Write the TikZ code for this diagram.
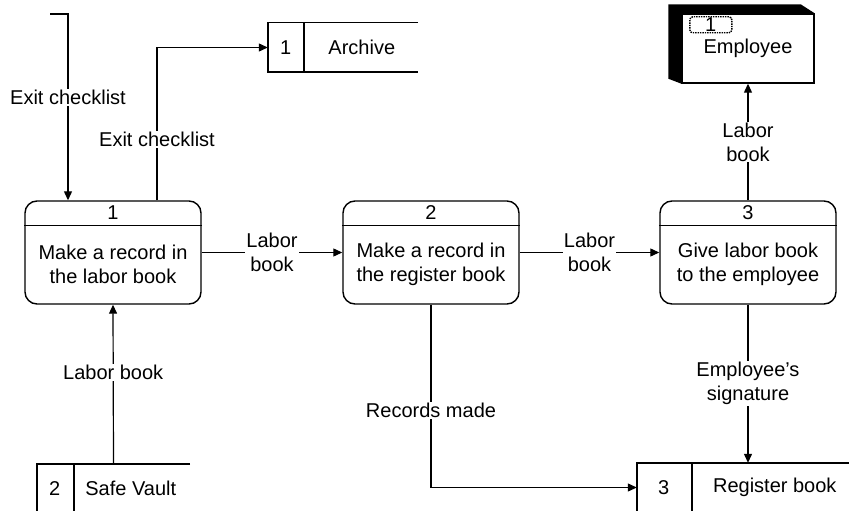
\documentclass[tikz,border=0pt]{standalone}
\usepackage{fontspec}
\setmainfont{Liberation Sans}
\usetikzlibrary{arrows.meta,positioning}

\tikzset{
    proc/.style={draw, line width=1.4pt, rounded corners=12pt,
        minimum width=176pt, minimum height=103pt, inner sep=0pt},
    txt/.style={align=center, inner sep=1pt},
    lbl/.style={txt, fill=white},
    store/.style={minimum width=#1, minimum height=49pt, inner sep=0pt},
    flow/.style={draw, line width=1.2pt, -{Triangle[length=9pt,width=8pt]}},
    wall/.style={line width=1.4pt}
}

\begin{document}
\begin{tikzpicture}[x=1pt, y=-1pt,
    font=\fontsize{20}{24}\selectfont]
    \useasboundingbox (0,0) rectangle (849,511);

    % processes
    \foreach \n/\x/\t in {1/113/{Make a record in\\the labor book},
                          2/431/{Make a record in\\the register book},
                          3/748/{Give labor book\\to the employee}} {
        \node[proc] (p\n) at (\x,252.5) {};
        \draw[wall] ([yshift=-25pt]p\n.north west) -- ([yshift=-25pt]p\n.north east);
        \node[txt] at ([yshift=-12.5pt]p\n.north) {\n};
        \node[txt] at ([yshift=-12pt]p\n.center) {\t};
    }

    % data stores
    \node[store=150pt] (arch) at (343,47.5) {};
    \node[store=153pt] (safe) at (113.5,488.5) {};
    \node[store=215pt] (reg) at (744.5,487.5) {};
    \draw[wall] (arch.north east) -- (arch.north west) -- (arch.south west) -- (arch.south east);
    \draw[wall] (safe.north east) -- (safe.north west) -- (safe.south west);
    \draw[wall] (reg.north east) -- (reg.north west) -- (reg.south west);
    \draw[wall] ([xshift=36pt]arch.north west) -- ([xshift=36pt]arch.south west);
    \draw[wall] ([xshift=37pt]safe.north west) -- ([xshift=37pt]safe.south west);
    \draw[wall] ([xshift=55pt]reg.north west) -- ([xshift=55pt]reg.south west);
    \node[txt] at ([xshift=18pt]arch.west) {1};
    \node[txt] at ([xshift=94pt]arch.west) {Archive};
    \node[txt] at ([xshift=18pt]safe.west) {2};
    \node[txt] at ([xshift=94pt]safe.west) {Safe Vault};
    \node[txt] at ([xshift=27pt]reg.west) {3};
    \node[txt] at ([xshift=138pt]reg.west) {Register book};

    % external entity
    \node[draw, wall, fill=white, minimum width=132pt, minimum height=69pt,
        inner sep=0pt] (emp) at (748,48.5) {Employee};
    \fill ([xshift=-13pt,yshift=9pt]emp.north west) -- ([xshift=-14pt,yshift=9pt]emp.north east)
        -- (emp.north east) -- (emp.north west) -- (emp.south west)
        -- ([xshift=-13pt,yshift=5pt]emp.south west) -- cycle;
    \node[draw, densely dotted, line width=1.4pt, rounded corners=3pt,
        minimum width=42pt, minimum height=16pt, inner sep=0pt] (empno)
        at ([xshift=29.5pt,yshift=-11.5pt]emp.north west) {1};

    % flows
    \coordinate (src) at (50,14);
    \draw[flow] (src) -| ([xshift=-45pt]p1.north);
    \draw[flow] ([xshift=44pt]p1.north) |- (arch.west);
    \draw[flow] (p1) -- (p2) node[lbl, midway] {Labor\\book};
    \draw[flow] (p2) -- (p3) node[lbl, midway] {Labor\\book};
    \draw[flow] (p3.north) -- (emp.south) node[lbl, midway] {Labor\\book};
    \draw[flow] (p3.south) -- (p3.south |- reg.north)
        node[lbl, midway] {Employee's\\signature};
    \draw[flow] (p2.south) |- (reg.west);
    \draw[flow] (safe.north) -- (p1.south) node[lbl, pos=0.575] {Labor book};

    % labels on the bent flows
    \path (src) -| ([xshift=-45pt]p1.north) node[lbl, pos=0.725] {Exit checklist};
    \path ([xshift=44pt]p1.north) |- (arch.west) node[lbl, pos=0.2] {Exit checklist};
    \path (p2.south) |- (reg.west) node[lbl, pos=0.29] {Records made};
\end{tikzpicture}
\end{document}
